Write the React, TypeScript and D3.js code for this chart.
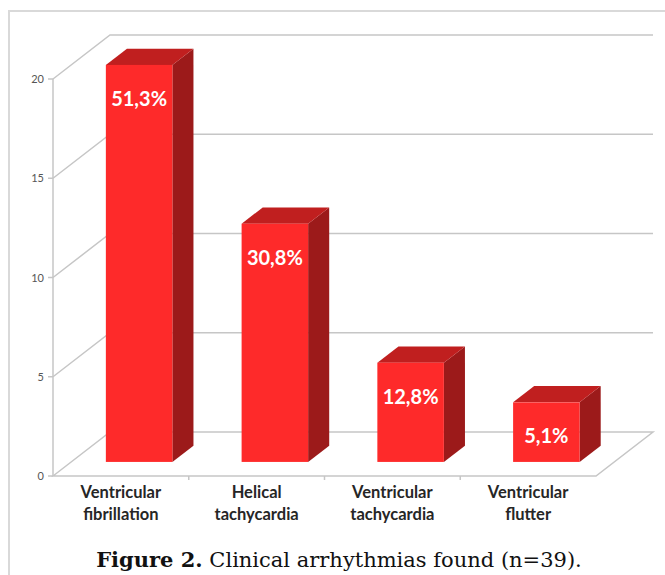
import React from "react";
import * as d3 from "d3";

const categories = [
  ["Ventricular", "fibrillation"],
  ["Helical", "tachycardia"],
  ["Ventricular", "tachycardia"],
  ["Ventricular", "flutter"],
];
const values = [20, 12, 5, 3];
const percentLabels = ["51,3%", "30,8%", "12,8%", "5,1%"];
const yTicks = [0, 5, 10, 15, 20];

const W = 665;
const H = 575;
const DX = 57;
const DY = -44;
const F_FRONT = 0.32;
const F_BACK = 0.69;

export default function App() {
  const keys = categories.map((_, i) => String(i));
  const x = d3.scaleBand().domain(keys).range([53, 596]).paddingInner(0).paddingOuter(0);
  const y = d3.scaleLinear().domain([0, 20]).range([476, 79]);
  const bw = x.bandwidth();
  const barW = bw * 0.49;

  const fdx = DX * F_FRONT, fdy = DY * F_FRONT;
  const bdx = DX * F_BACK, bdy = DY * F_BACK;

  const x0 = x.range()[0];
  const x1 = x.range()[1];
  const y0 = y(0);

  const grid = yTicks.slice(1);

  return (
    <svg width={W} height={H} style={{ position: "absolute", left: 0, top: 0 }}>
      <rect x={9} y={11} width={W} height={H} fill="#fff" stroke="#d9d9d9" strokeWidth={2} />
      {/* floor */}
      <path
        d={`M${x0},${y0} L${x0 + DX},${y0 + DY} L${x1 + DX},${y0 + DY} L${x1},${y0} Z`}
        fill="none"
        stroke="#c6c6c6"
        strokeWidth={1.5}
      />
      {/* gridlines */}
      {grid.map((t) => (
        <path
          key={t}
          d={`M${x0},${y(t)} L${x0 + DX},${y(t) + DY} L${x1 + DX},${y(t) + DY}`}
          fill="none"
          stroke="#c6c6c6"
          strokeWidth={1.5}
        />
      ))}
      {/* y axis */}
      <line x1={x0} y1={y(0)} x2={x0} y2={y(20)} stroke="#c6c6c6" strokeWidth={1.5} />
      {yTicks.map((t) => (
        <g key={t}>
          <line x1={x0 - 5} x2={x0} y1={y(t)} y2={y(t)} stroke="#c6c6c6" strokeWidth={1.5} />
          <text x={x0 - 9} y={y(t) + 4} textAnchor="end" fontFamily="Lato" fontSize={11} fill="#555">
            {t}
          </text>
        </g>
      ))}
      {/* category ticks */}
      {keys.slice(1).map((k) => (
        <line key={k} x1={x(k)!} x2={x(k)!} y1={y0} y2={y0 + 4} stroke="#c6c6c6" strokeWidth={1.5} />
      ))}
      {/* bars */}
      {values.map((v, i) => {
        const bx = x(String(i))! + (bw - barW) / 2;
        const fx = bx + fdx;
        const fyTop = y(v) + fdy;
        const fyBot = y(0) + fdy;
        const ddx = bdx - fdx, ddy = bdy - fdy;
        return (
          <g key={i}>
            <path
              d={`M${fx + barW},${fyTop} L${fx + barW + ddx},${fyTop + ddy} L${fx + barW + ddx},${fyBot + ddy} L${fx + barW},${fyBot} Z`}
              fill="#9c1a1a"
            />
            <path
              d={`M${fx},${fyTop} L${fx + ddx},${fyTop + ddy} L${fx + barW + ddx},${fyTop + ddy} L${fx + barW},${fyTop} Z`}
              fill="#c01f1f"
            />
            <rect x={fx} y={fyTop} width={barW} height={fyBot - fyTop} fill="#fe2a2a" />
            <text
              x={fx + barW / 2}
              y={fyTop + 41}
              textAnchor="middle"
              fontFamily="Lato"
              fontWeight="bold"
              fontSize={20}
              fill="#fff"
            >
              {percentLabels[i]}
            </text>
          </g>
        );
      })}
      {/* category labels */}
      {categories.map((c, i) => (
        <text
          key={i}
          x={x(String(i))! + bw / 2}
          y={498}
          textAnchor="middle"
          fontFamily="Lato"
          fontWeight="bold"
          fontSize={16.5}
          fill="#262626"
        >
          <tspan x={x(String(i))! + bw / 2} dy={0}>{c[0]}</tspan>
          <tspan x={x(String(i))! + bw / 2} dy={22}>{c[1]}</tspan>
        </text>
      ))}
      {/* caption */}
      <text x={339} y={567} textAnchor="middle" fontFamily="DejaVu Serif" fontSize={21} fill="#111">
        <tspan fontWeight="bold">Figure 2.</tspan>
        <tspan> Clinical arrhythmias found (n=39).</tspan>
      </text>
    </svg>
  );
}
